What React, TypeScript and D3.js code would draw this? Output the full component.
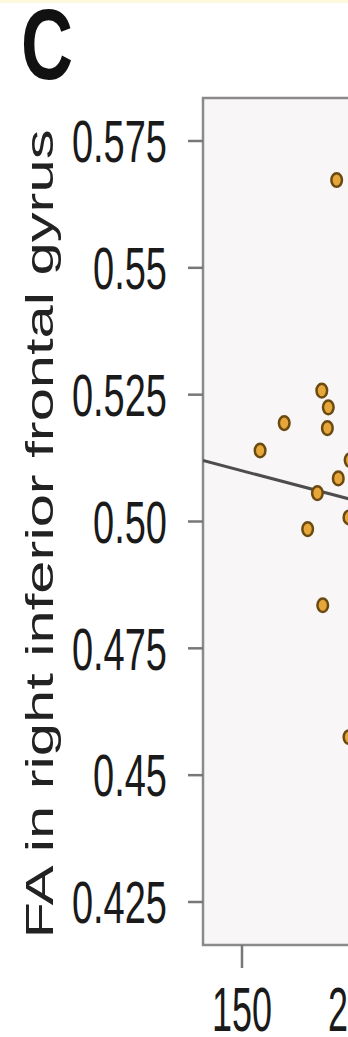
import * as d3 from 'd3';

const W = 348;
const H = 1037;

// tick values
const Y_TICKS = [0.425, 0.45, 0.475, 0.5, 0.525, 0.55, 0.575];
const Y_TICK_LABELS = ['0.425', '0.45', '0.475', '0.50', '0.525', '0.55', '0.575'];
const X_TICKS = [150, 200];

// subjects (x value, FA value)
const XS = [190.8, 184.4, 187.2, 186.8, 168.2, 157.8, 196.6, 191.5, 182.5, 196.1, 178.3, 184.8, 196.1];
const FA = [0.5673, 0.5258, 0.5225, 0.5184, 0.5194, 0.514, 0.5121, 0.5085, 0.5056, 0.5008, 0.4985, 0.4835, 0.4575];

// fitted line
const FIT_INTERCEPT = 0.528;
const FIT_SLOPE = -0.00012;

const PLOT = { left: 203, top: 98, bottom: 945 };
const FONT = '"Liberation Sans", Arial, Helvetica, sans-serif';

export default function App() {
  const x = d3.scaleLinear().domain([150, 200]).range([242, 358]);
  const y = d3.scaleLinear().domain([0.425, 0.575]).range([902, 141]);

  const x0 = x.invert(PLOT.left);
  const x1 = x.invert(W + 20);
  const fitLine = d3.line<number>()
    .x((d) => x(d))
    .y((d) => y(FIT_INTERCEPT + FIT_SLOPE * d));

  return (
    <svg
      width={W}
      height={H}
      style={{ position: 'absolute', left: 0, top: 0, background: '#fff' }}
      fontFamily={FONT}
    >
      <defs>
        <clipPath id="plotClip">
          <rect x={PLOT.left} y={PLOT.top} width={W - PLOT.left + 20} height={PLOT.bottom - PLOT.top} />
        </clipPath>
      </defs>

      <rect x={0} y={0} width={W} height={3} fill="#fcf9df" />

      {/* panel letter */}
      <text x={21} y={0} fontSize={72} fontWeight="bold" fill="#111"
        transform="translate(0,79) scale(1,1.4)">C</text>

      {/* plot panel */}
      <rect x={PLOT.left} y={PLOT.top} width={W - PLOT.left + 20} height={PLOT.bottom - PLOT.top}
        fill="#f8f6f7" stroke="#8a8a8a" strokeWidth={2.5} />

      <g clipPath="url(#plotClip)">
        <path d={fitLine([x0, x1]) || ''} fill="none" stroke="#4d4d4d" strokeWidth={3} />
        {XS.map((v, i) => (
          <ellipse key={i} cx={x(v)} cy={y(FA[i])} rx={5.3} ry={6.8}
            fill="#e6a63a" stroke="#6a4a10" strokeWidth={2.5} />
        ))}
      </g>

      {/* y axis */}
      {Y_TICKS.map((t, i) => (
        <g key={t}>
          <line x1={188} x2={PLOT.left} y1={y(t)} y2={y(t)} stroke="#777" strokeWidth={2.5} />
          <text textAnchor="end" fontSize={38} fill="#1a1a1a" dy="0.36em"
            transform={`translate(167,${y(t)}) scale(1,1.55)`}>{Y_TICK_LABELS[i]}</text>
        </g>
      ))}

      {/* x axis */}
      {X_TICKS.map((t) => (
        <g key={t}>
          <line x1={x(t)} x2={x(t)} y1={PLOT.bottom} y2={968} stroke="#777" strokeWidth={2.5} />
          <text textAnchor="middle" fontSize={36} fill="#1a1a1a"
            transform={`translate(${x(t)},1031) scale(1,1.75)`}>{t}</text>
        </g>
      ))}

      {/* y label */}
      <text textAnchor="middle" fontSize={39} fill="#222"
        transform="translate(53,534) scale(1,1.53) rotate(-90)">FA in right inferior frontal gyrus</text>
    </svg>
  );
}
